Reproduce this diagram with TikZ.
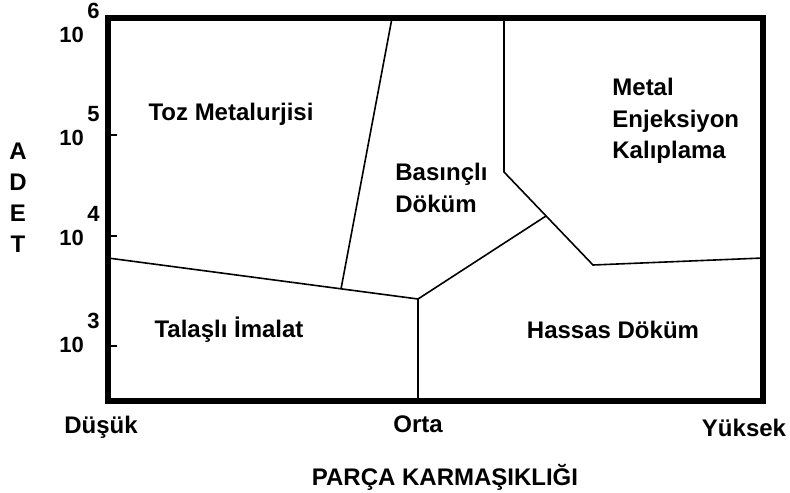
\documentclass[tikz,border=0pt]{standalone}
\usepackage{fontspec}
\setmainfont{Liberation Sans}
\usetikzlibrary{positioning}
\tikzset{frame/.style={draw=black,line width=2.6pt},border/.style={draw=black,line width=0.8pt},region/.style={font=\bfseries\fontsize{12}{15.75}\selectfont,align=left,inner sep=0pt},axis/.style={font=\bfseries\fontsize{12}{15.5}\selectfont,align=center,inner sep=0pt},power/.style={font=\bfseries\fontsize{11}{13}\selectfont,inner sep=0pt}}

\begin{document}
\begin{tikzpicture}[x=0.5pt,y=-0.5pt]
\useasboundingbox[fill=white] (0,0) rectangle (790,492);
% region corners
\coordinate (lw) at (108,258);
\coordinate (tz) at (341,289);
\coordinate (md) at (418,299);
\coordinate (bm) at (418,401);
\coordinate (tp) at (392,18);
\coordinate (mx) at (546,216);
\coordinate (mt) at (504,18);
\coordinate (mk) at (504,172);
\coordinate (hk) at (593,265);
\coordinate (rw) at (763,258);
\draw[border] (lw)--(md)--(bm);
\draw[border] (tz)--(tp);
\draw[border] (md)--(mx);
\draw[border] (mt)--(mk)--(hk)--(rw);
\draw[frame] (108,18) rectangle (763,401);
\foreach \y in {135,236,346}\draw[draw=black,line width=1pt] (108,\y)--(117,\y);
\foreach \e/\y in {6/43,5/145,4/245,3/352}{
\node[power,anchor=base west] (t\e) at (59,\y) {10};
\node[power,anchor=base west] (s\e) at (87,\y-24) {\e};
}
\node[region,anchor=base] (toz) at (231,120) {Toz Metalurjisi};
\node[region,anchor=north west] (bas) at (395,163) {Basınçlı\\Döküm};
\node[region,anchor=north west] (mim) at (612,78) {Metal\\Enjeksiyon\\Kalıplama};
\node[region,anchor=base] (tal) at (229,337) {Talaşlı İmalat};
\node[region,anchor=base] (has) at (613,338) {Hassas Döküm};
\node[axis,anchor=north] (adet) at (18,143) {A\\D\\E\\T};
\node[axis,anchor=base] (dus) at (101,433) {Düşük};
\node[axis,anchor=base] (ort) at (418,432) {Orta};
\node[axis,anchor=base] (yuk) at (744,436) {Yüksek};
\node[axis,anchor=base] (pk) at (445,485) {PARÇA KARMAŞIKLIĞI};
\end{tikzpicture}
\end{document}
